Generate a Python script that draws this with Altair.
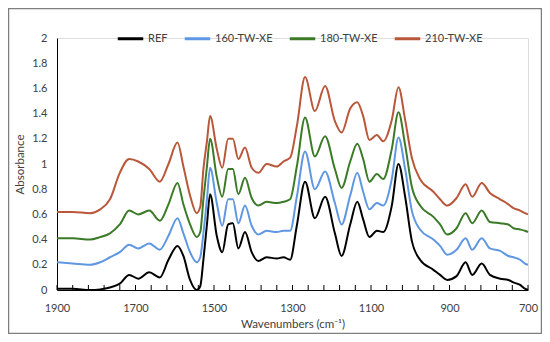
import altair as alt
import pandas as pd

wavenumbers = [1900, 1860, 1816, 1790, 1765, 1740, 1716, 1693, 1665, 1638,
               1616, 1593, 1578, 1561, 1544, 1535, 1527, 1518, 1510, 1493,
               1479, 1464, 1452, 1438, 1421, 1404, 1387, 1366, 1340, 1323,
               1306, 1289, 1268, 1243, 1217, 1192, 1175, 1153, 1135, 1120,
               1104, 1085, 1069, 1047, 1030, 1013, 996, 975, 941, 924,
               906, 882, 859, 842, 818, 797, 771, 750, 737, 720,
               708, 700]

ref = [0.01, 0.01, 0.0, 0.005, 0.02, 0.05, 0.12, 0.09, 0.14, 0.10,
       0.24, 0.35, 0.27, 0.08, 0.0, 0.03, 0.24, 0.52, 0.76, 0.43,
       0.30, 0.52, 0.53, 0.33, 0.46, 0.30, 0.23, 0.26, 0.25, 0.26,
       0.24, 0.51, 0.86, 0.57, 0.74, 0.45, 0.27, 0.52, 0.70, 0.56,
       0.42, 0.47, 0.46, 0.67, 1.00, 0.74, 0.39, 0.24, 0.16, 0.12,
       0.08, 0.11, 0.22, 0.12, 0.21, 0.12, 0.09, 0.08, 0.06, 0.04,
       0.01, 0.0]

tw160 = [0.22, 0.21, 0.20, 0.22, 0.26, 0.30, 0.36, 0.33, 0.37, 0.32,
         0.43, 0.57, 0.45, 0.30, 0.22, 0.26, 0.45, 0.72, 0.97, 0.69,
         0.51, 0.72, 0.72, 0.53, 0.67, 0.51, 0.44, 0.47, 0.46, 0.47,
         0.47, 0.74, 1.10, 0.80, 0.94, 0.69, 0.52, 0.75, 0.93, 0.78,
         0.64, 0.69, 0.67, 0.88, 1.21, 0.96, 0.63, 0.48, 0.40, 0.35,
         0.28, 0.32, 0.41, 0.32, 0.41, 0.33, 0.31, 0.27, 0.26, 0.24,
         0.21, 0.20]

tw180 = [0.41, 0.41, 0.40, 0.42, 0.45, 0.52, 0.63, 0.60, 0.63, 0.55,
         0.68, 0.85, 0.68, 0.52, 0.42, 0.46, 0.72, 0.98, 1.20, 0.90,
         0.74, 0.96, 0.96, 0.76, 0.89, 0.73, 0.67, 0.70, 0.69, 0.70,
         0.72, 0.98, 1.37, 1.06, 1.22, 0.96, 0.81, 1.02, 1.16, 1.04,
         0.86, 0.92, 0.88, 1.12, 1.41, 1.15, 0.82, 0.67, 0.58, 0.52,
         0.44, 0.49, 0.61, 0.53, 0.63, 0.54, 0.53, 0.52, 0.49, 0.48,
         0.47, 0.46]

tw210 = [0.62, 0.62, 0.61, 0.64, 0.72, 0.93, 1.04, 1.02, 0.96, 0.86,
         1.00, 1.17, 0.98, 0.75, 0.61, 0.66, 0.96, 1.18, 1.38, 1.12,
         0.97, 1.20, 1.20, 1.04, 1.13, 0.97, 0.93, 1.00, 0.98, 1.02,
         1.05, 1.30, 1.69, 1.42, 1.62, 1.34, 1.25, 1.44, 1.49, 1.38,
         1.19, 1.23, 1.18, 1.35, 1.61, 1.35, 1.05, 0.88, 0.78, 0.72,
         0.67, 0.73, 0.84, 0.74, 0.85, 0.77, 0.72, 0.68, 0.65, 0.63,
         0.61, 0.60]

series_names = ["REF", "160-TW-XE", "180-TW-XE", "210-TW-XE"]
series_colors = ["#000000", "#5F97E3", "#3B7A27", "#B9573B"]
x_ticks = list(range(700, 1901, 40))
y_ticks = [0, 0.2, 0.4, 0.6, 0.8, 1, 1.2, 1.4, 1.6, 1.8, 2]

rows = []
for name, vals in zip(series_names, [ref, tw160, tw180, tw210]):
    for w, v in zip(wavenumbers, vals):
        rows.append({"wn": w, "abs": v, "series": name})
df = pd.DataFrame(rows)

FONT = "Lato"
W, H = 471, 252
TXT = "#404040"

x_scale = alt.Scale(domain=[700, 1900], reverse=True, nice=False, zero=False)
y_scale = alt.Scale(domain=[0, 2], nice=False)

x_axis = alt.Axis(values=x_ticks, format="d",
                  labelExpr="datum.value % 200 == 100 ? datum.label : ''",
                  ticks=False, tickSize=0, grid=False,
                  title="Wavenumbers (cm⁻¹)", labelPadding=12,
                  titlePadding=5, labelFlush=False,
                  labelFont=FONT, titleFont=FONT, labelFontSize=11,
                  titleFontSize=11.5, labelColor=TXT, titleColor=TXT,
                  titleFontWeight="normal", domainColor="#000000")
y_axis = alt.Axis(values=y_ticks, format="~g", ticks=False, tickSize=0,
                  grid=False, title="Absorbance", labelPadding=10,
                  titlePadding=6, labelFont=FONT, titleFont=FONT,
                  labelFontSize=11, titleFontSize=11.5, labelColor=TXT,
                  titleColor=TXT, titleFontWeight="normal",
                  domainColor="#000000")

lines = alt.Chart(df).mark_line(strokeWidth=2, interpolate="monotone").encode(
    x=alt.X("wn:Q", scale=x_scale, axis=x_axis),
    y=alt.Y("abs:Q", scale=y_scale, axis=y_axis),
    color=alt.Color("series:N",
                    scale=alt.Scale(domain=series_names, range=series_colors),
                    legend=alt.Legend(orient="none", legendX=59, legendY=-14,
                                      direction="horizontal", title=None,
                                      symbolType="stroke", symbolStrokeWidth=3,
                                      symbolSize=650, labelFontSize=11,
                                      labelFont=FONT, labelColor=TXT,
                                      columnPadding=10, labelOffset=3)),
    order=alt.Order("wn:Q", sort="descending"),
)

tick_df = pd.DataFrame({"wn": x_ticks})
ticks = alt.Chart(tick_df).mark_rule(color="#000000", strokeWidth=1).encode(
    x=alt.X("wn:Q", scale=x_scale, axis=x_axis),
    y=alt.value(H),
    y2=alt.value(H - 5),
)

border = alt.Chart(pd.DataFrame({"a": [0]})).mark_rect(
    fill="transparent", stroke="#7F7F7F", strokeWidth=1.5
).encode(
    x=alt.value(-48.5), x2=alt.value(484.5),
    y=alt.value(-29.5), y2=alt.value(295.5),
)

chart = alt.layer(lines, ticks, border).properties(
    width=W, height=H,
    autosize=alt.AutoSizeParams(type="none"),
    padding={"left": 49, "top": 30, "right": 14, "bottom": 44},
).configure_view(stroke=None).configure(background="white")

chart.save("out.html", embed_options={"renderer": "svg", "actions": False})
